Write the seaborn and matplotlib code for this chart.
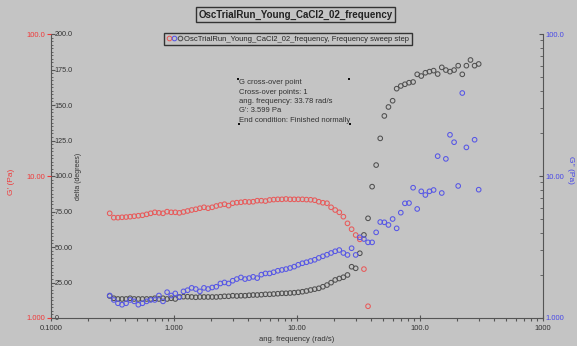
import numpy as np
import pandas as pd
import matplotlib
matplotlib.use("Agg")
import matplotlib.pyplot as plt
import seaborn as sns
from matplotlib.ticker import FixedLocator, FixedFormatter, NullFormatter, LogLocator, MultipleLocator, NullLocator
from matplotlib.legend_handler import HandlerTuple
from matplotlib.lines import Line2D
from matplotlib.patches import Rectangle

# ---------------- data ----------------
freq = [0.300, 0.324, 0.350, 0.378, 0.408, 0.440, 0.475, 0.513, 0.554, 0.599,
        0.646, 0.698, 0.754, 0.814, 0.879, 0.949, 1.024, 1.106, 1.194, 1.290,
        1.392, 1.503, 1.623, 1.753, 1.893, 2.044, 2.207, 2.383, 2.573, 2.779,
        3.00, 3.24, 3.50, 3.78, 4.08, 4.40, 4.75, 5.13, 5.54, 5.99,
        6.46, 6.98, 7.54, 8.14, 8.79, 9.49, 10.24, 11.06, 11.94, 12.90,
        13.92, 15.03, 16.23, 17.53, 18.93, 20.44, 22.07, 23.83, 25.73, 27.79,
        30.0, 32.4, 35.0, 37.8, 40.8, 44.0, 47.5, 51.3, 55.4, 59.9,
        64.6, 69.8, 75.4, 81.4, 87.9, 94.9, 102.4, 110.6, 119.4, 129.0,
        139.2, 150.3, 162.3, 175.3, 189.3, 204.4, 220.7, 238.3, 257.3, 277.9, 300.0]

g_storage = [5.46, 5.09, 5.09, 5.12, 5.14, 5.17, 5.21, 5.25, 5.29, 5.37,
             5.46, 5.55, 5.50, 5.46, 5.61, 5.55, 5.55, 5.50, 5.58, 5.67,
             5.76, 5.83, 5.93, 6.02, 5.93, 6.02, 6.15, 6.25, 6.33, 6.19,
             6.43, 6.49, 6.53, 6.59, 6.56, 6.59, 6.70, 6.70, 6.66, 6.78,
             6.82, 6.85, 6.85, 6.89, 6.85, 6.85, 6.85, 6.85, 6.82, 6.80,
             6.75, 6.59, 6.48, 6.43, 6.02, 5.76, 5.55, 5.17, 4.64, 4.22,
             3.84, 3.58, 2.21, 1.21] + [np.nan] * 27

g_loss = [1.44, 1.34, 1.27, 1.24, 1.27, 1.34, 1.31, 1.24, 1.27, 1.31,
          1.34, 1.34, 1.44, 1.31, 1.52, 1.44, 1.49, 1.40, 1.54, 1.57,
          1.63, 1.60, 1.54, 1.63, 1.60, 1.64, 1.66, 1.75, 1.78, 1.75,
          1.83, 1.88, 1.93, 1.88, 1.91, 1.95, 1.91, 2.02, 2.06, 2.06,
          2.10, 2.15, 2.18, 2.21, 2.25, 2.30, 2.37, 2.43, 2.47, 2.52,
          2.57, 2.65, 2.72, 2.79, 2.87, 2.95, 3.01, 2.87, 2.78, 3.10,
          2.78, 3.70, 3.60, 3.41, 3.41, 4.01, 4.74, 4.72, 4.52, 4.98,
          4.28, 5.52, 6.42, 6.45, 8.27, 5.86, 7.80, 7.35, 7.80, 7.97,
          13.8, 7.59, 13.2, 19.5, 17.3, 8.51, 38.4, 15.9, np.nan, 18.0, 8.01]

delta = [15.5, 13.9, 13.4, 13.4, 13.4, 13.9, 13.4, 13.4, 13.4, 13.4,
         13.4, 13.9, 13.4, 13.9, 13.4, 13.9, 13.4, 14.8, 15.0, 15.0,
         14.8, 14.6, 14.8, 14.8, 14.8, 14.8, 14.8, 15.0, 15.3, 15.3,
         15.7, 15.5, 15.7, 15.7, 16.0, 16.2, 16.2, 16.4, 16.7, 16.7,
         16.9, 17.1, 17.4, 17.4, 17.6, 17.8, 18.1, 18.5, 19.0, 19.7,
         20.3, 20.9, 22.0, 23.2, 24.9, 26.8, 27.8, 28.7, 30.3, 36.1,
         35.0, 45.6, 58.5, 70.2, 92.5, 107.7, 126.5, 142.3, 148.6, 153.0,
         161.5, 163.4, 164.6, 165.7, 166.2, 171.6, 170.4, 172.7, 173.5, 174.2,
         171.8, 176.5, 174.6, 173.5, 174.6, 177.7, 171.6, 177.7, 181.7, 177.7, 178.9]

x_ticks = [0.1, 1, 10, 100, 1000]
x_ticklabels = ["0.1000", "1.000", "10.00", "100.0", "1000"]
delta_ticks = [0, 25, 50, 75, 100, 125, 150, 175, 200]
delta_ticklabels = ["0", "25.00", "50.00", "75.00", "100.0", "125.0", "150.0", "175.0", "200.0"]
mod_ticks = [1, 10, 100]
mod_ticklabels = ["1.000", "10.00", "100.0"]

title = "OscTrialRun_Young_CaCl2_02_frequency"
legend_label = "OscTrialRun_Young_CaCl2_02_frequency, Frequency sweep step"
note_lines = ["G cross-over point",
              "Cross-over points: 1",
              "ang. frequency: 33.78 rad/s",
              "G': 3.599 Pa",
              "End condition: Finished normally"]

df = pd.DataFrame({"freq": freq, "gp": g_storage, "gpp": g_loss, "delta": delta})

# ---------------- style ----------------
bg = "#c4c4c4"
c_red = "#e85a5a"
c_blue = "#5656e6"
c_gray = "#505050"
c_axis = "#555555"
c_redtxt = "#f03a3a"
c_bluetxt = "#4848e8"

sns.set_theme(style="ticks")
plt.rcParams["font.family"] = ["Liberation Sans", "DejaVu Sans"]
plt.rcParams["axes.linewidth"] = 0.8

W, H = 577, 346
fig = plt.figure(figsize=(W / 100, H / 100), dpi=100, facecolor=bg)
L, R, T, B = 51, 543, 34, 318
ax = fig.add_axes([L / W, (H - B) / H, (R - L) / W, (B - T) / H])
ax.set_facecolor(bg)
ax_gp = ax.twinx()
ax_gpp = ax.twinx()

mk = dict(marker="o", s=11, facecolor="none", linewidth=0.75, legend=False)
sns.scatterplot(data=df, x="freq", y="delta", ax=ax, color=c_gray, edgecolor=c_gray, **mk)
sns.scatterplot(data=df, x="freq", y="gp", ax=ax_gp, color=c_red, edgecolor=c_red, **mk)
sns.scatterplot(data=df, x="freq", y="gpp", ax=ax_gpp, color=c_blue, edgecolor=c_blue, **mk)

# x axis
ax.set_xscale("log")
ax.set_xlim(0.1, 1000)
ax.xaxis.set_major_locator(FixedLocator(x_ticks))
ax.xaxis.set_major_formatter(FixedFormatter(x_ticklabels))
ax.xaxis.set_minor_locator(LogLocator(base=10, subs=np.arange(2, 10)))
ax.xaxis.set_minor_formatter(NullFormatter())
ax.tick_params(axis="x", which="major", direction="inout", length=4, width=0.8,
               color=c_axis, labelsize=5.5, labelcolor="#333333", pad=3)
ax.tick_params(axis="x", which="minor", direction="out", length=2, width=0.8, color=c_axis)
ax.set_xlabel("ang. frequency (rad/s)", fontsize=5.5, color="#333333", labelpad=3)

# delta axis (linear, labels inside)
ax.set_ylim(0, 200)
ax.yaxis.set_major_locator(FixedLocator(delta_ticks))
ax.yaxis.set_major_formatter(FixedFormatter(delta_ticklabels))
ax.yaxis.set_minor_locator(MultipleLocator(2.5))
ax.tick_params(axis="y", which="major", direction="in", length=3, width=0.8,
               color=c_axis, labelsize=5.2, labelcolor="#333333", pad=-2.5)
ax.tick_params(axis="y", which="minor", direction="in", length=1.5, width=0.6, color=c_axis)
for t in ax.yaxis.get_major_ticks():
    t.label1.set_horizontalalignment("left")
ax.set_ylabel("delta (degrees)", fontsize=5, color="#333333")
ax.yaxis.set_label_coords((82 - L) / (R - L), 0.5)

# G' axis (log, red, left)
ax_gp.set_yscale("log")
ax_gp.set_ylim(1, 100)
ax_gp.yaxis.set_ticks_position("left")
ax_gp.yaxis.set_label_position("left")
ax_gp.yaxis.set_major_locator(FixedLocator(mod_ticks))
ax_gp.yaxis.set_major_formatter(FixedFormatter(mod_ticklabels))
ax_gp.yaxis.set_minor_locator(NullLocator())
ax_gp.tick_params(axis="y", which="major", direction="out", length=3, width=0.8,
                  color=c_redtxt, labelsize=5.5, labelcolor=c_redtxt, pad=1.5)
ax_gp.set_ylabel("G' (Pa)", fontsize=6, color=c_redtxt)
ax_gp.yaxis.set_label_coords((15 - L) / (R - L), 0.48)

# G'' axis (log, blue, right)
ax_gpp.set_yscale("log")
ax_gpp.set_ylim(1, 100)
ax_gpp.yaxis.set_major_locator(FixedLocator(mod_ticks))
ax_gpp.yaxis.set_major_formatter(FixedFormatter(mod_ticklabels))
ax_gpp.yaxis.set_minor_locator(LogLocator(base=10, subs=np.arange(2, 10)))
ax_gpp.yaxis.set_minor_formatter(NullFormatter())
ax_gpp.tick_params(axis="y", which="major", direction="in", length=3, width=0.8,
                   color=c_axis, labelsize=5.5, labelcolor=c_bluetxt, pad=1.5)
ax_gpp.tick_params(axis="y", which="minor", direction="in", length=2, width=0.6, color=c_axis)
ax_gpp.set_ylabel("G'' (Pa)", fontsize=6, color=c_bluetxt, rotation=270)
ax_gpp.yaxis.set_label_coords((574 - L) / (R - L), 0.52)

for a in (ax, ax_gp, ax_gpp):
    for s in a.spines.values():
        s.set_visible(False)
        s.set_color(c_axis)
        s.set_linewidth(0.8)
ax.spines["left"].set_visible(True)
ax.spines["bottom"].set_visible(True)
ax_gpp.spines["right"].set_visible(True)
ax_gp.patch.set_visible(False)
ax_gpp.patch.set_visible(False)

# legend
handles = tuple(Line2D([], [], marker="o", linestyle="none", markersize=3.3,
                       markerfacecolor="none", markeredgecolor=c, markeredgewidth=0.75)
                for c in (c_red, c_blue, c_gray))
leg = ax_gpp.legend([handles], [legend_label], handler_map={tuple: HandlerTuple(ndivide=None, pad=0.1)},
                    loc="center", bbox_to_anchor=((288 - L) / (R - L), (B - 39) / (B - T)),
                    fontsize=5.5, frameon=True, fancybox=False, edgecolor="#333333",
                    facecolor=bg, framealpha=1, handlelength=2.0, handletextpad=0.3,
                    borderpad=0.35, borderaxespad=0)
leg.get_frame().set_linewidth(1.0)

# title
fig.text(295.5 / W, 1 - 14.5 / H, title, ha="center", va="center", fontsize=7,
         fontweight="bold", color="#222222",
         bbox=dict(boxstyle="square,pad=0.3", fc=bg, ec="#333333", lw=1.0))

# cross-over annotation
fig.text(239 / W, 1 - 79 / H, "\n".join(note_lines), ha="left", va="top",
         fontsize=5.5, color="#333333", linespacing=1.5)
for (hx, hy) in [(238, 79), (349, 79), (239, 124), (350, 124)]:
    fig.add_artist(Rectangle(((hx - 1.2) / W, 1 - (hy + 1.2) / H), 2.4 / W, 2.4 / H,
                             transform=fig.transFigure, color="#111111", lw=0))

fig.savefig("out.png", dpi=100, facecolor=bg)
